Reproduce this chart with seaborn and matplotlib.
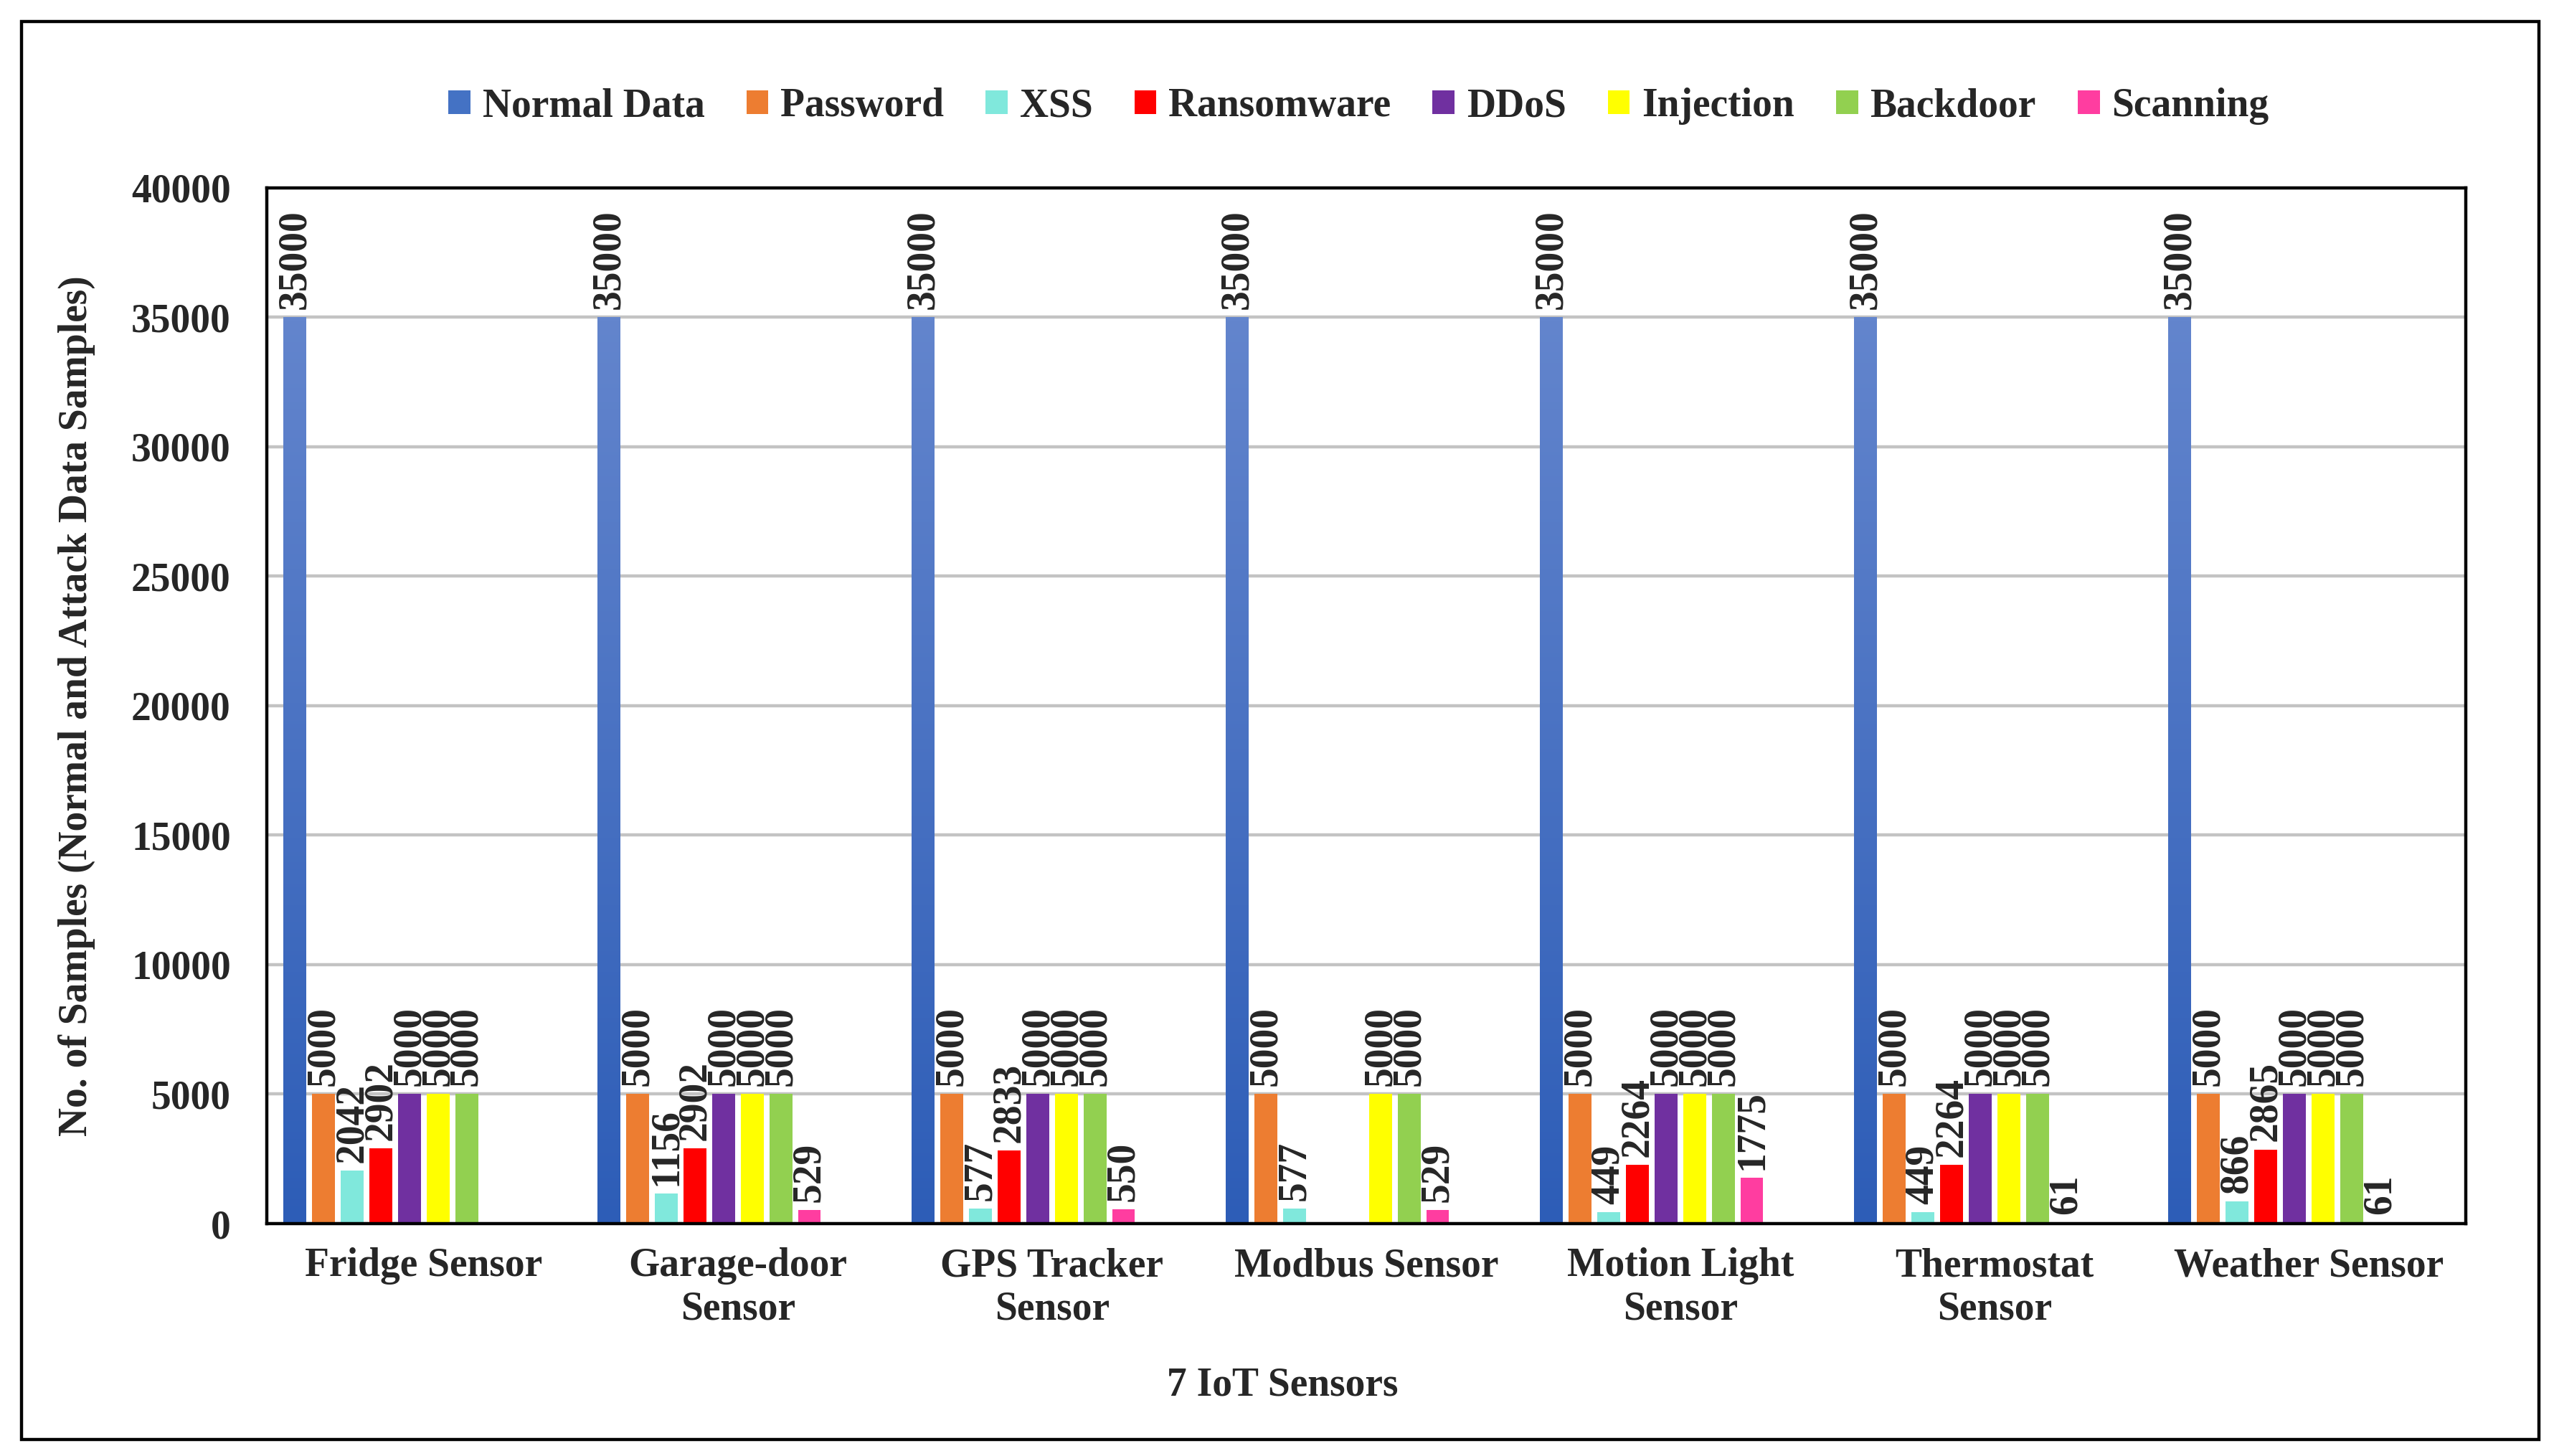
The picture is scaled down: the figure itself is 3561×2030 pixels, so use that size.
import numpy as np
import pandas as pd
import seaborn as sns
import matplotlib.pyplot as plt
from matplotlib.patches import Rectangle, Patch
from matplotlib.colors import LinearSegmentedColormap

sensors = [
    "Fridge Sensor",
    "Garage-door\nSensor",
    "GPS Tracker\nSensor",
    "Modbus Sensor",
    "Motion Light\nSensor",
    "Thermostat\nSensor",
    "Weather Sensor",
]
series = ["Normal Data", "Password", "XSS", "Ransomware", "DDoS", "Injection", "Backdoor", "Scanning"]
colors = ["#3F6EC4", "#ED7D31", "#80E8DC", "#FF0000", "#7030A0", "#FFFF00", "#92D050", "#FF3DA0"]

normal_data = [35000, 35000, 35000, 35000, 35000, 35000, 35000]
password = [5000, 5000, 5000, 5000, 5000, 5000, 5000]
xss = [2042, 1156, 577, 577, 449, 449, 866]
ransomware = [2902, 2902, 2833, np.nan, 2264, 2264, 2865]
ddos = [5000, 5000, 5000, np.nan, 5000, 5000, 5000]
injection = [5000, 5000, 5000, 5000, 5000, 5000, 5000]
backdoor = [5000, 5000, 5000, 5000, 5000, 5000, 5000]
scanning = [np.nan, 529, 550, 529, 1775, 61, 61]

values = [normal_data, password, xss, ransomware, ddos, injection, backdoor, scanning]
# the source chart keeps two empty series slots at the end of every group
pad_slots = ["_pad1", "_pad2"]

rows = []
for name, vals in zip(series, values):
    for s, v in zip(sensors, vals):
        rows.append({"sensor": s, "series": name, "value": v})
for name in pad_slots:
    for s in sensors:
        rows.append({"sensor": s, "series": name, "value": np.nan})
df = pd.DataFrame(rows)

sns.set_style("white")
plt.rcParams["font.family"] = ["Liberation Serif", "DejaVu Serif"]
plt.rcParams["font.weight"] = "bold"
plt.rcParams["axes.labelweight"] = "bold"

fig, ax = plt.subplots(figsize=(17.805, 10.15), dpi=200)
fig.subplots_adjust(left=0.1044, right=0.9654, top=0.871, bottom=0.1596)

palette = dict(zip(series, colors))
palette.update({p: "white" for p in pad_slots})
sns.barplot(
    data=df,
    x="sensor",
    y="value",
    hue="series",
    hue_order=series + pad_slots,
    order=sensors,
    palette=palette,
    saturation=1,
    width=0.911,
    gap=0.2,
    linewidth=0,
    errorbar=None,
    legend=False,
    ax=ax,
    zorder=2,
)

# gradient on the Normal Data bars
cmap = LinearSegmentedColormap.from_list("blue_grad", ["#2D5DB7", "#6385CD"])
grad = np.linspace(0, 1, 256).reshape(-1, 1)
for name, c in zip(series, ax.containers):
    if name == "Normal Data":
        for p in c.patches:
            x, w, h = p.get_x(), p.get_width(), p.get_height()
            ax.imshow(grad, extent=[x, x + w, 0, h], origin="lower", aspect="auto",
                      cmap=cmap, zorder=2.5)
            p.set_facecolor("none")
    ax.bar_label(c, fmt="%d", rotation=90, padding=4, fontsize=20, fontweight="bold")

ax.set_xlim(-0.5, len(sensors) - 0.5)
ax.set_ylim(0, 40000)
ax.set_yticks(np.arange(0, 40001, 5000))
ax.yaxis.grid(True, color="#c3c3c3", lw=1.6)
ax.set_axisbelow(True)
for sp in ax.spines.values():
    sp.set_visible(True)
    sp.set_color("black")
    sp.set_linewidth(1.6)

ax.tick_params(axis="y", length=0, pad=18, labelsize=20)
ax.tick_params(axis="x", length=0, pad=12, labelsize=20)
for t in ax.get_xticklabels() + ax.get_yticklabels():
    t.set_fontweight("bold")

ax.set_xlabel("7 IoT Sensors", fontsize=20, fontweight="bold")
ax.set_ylabel("No. of Samples (Normal and Attack Data Samples)", fontsize=20, fontweight="bold")
ax.xaxis.set_label_coords(0.462, -0.156)
ax.xaxis.label.set_va("center")
ax.yaxis.set_label_coords(-0.0863, 0.5)
ax.yaxis.label.set_va("center")

handles = [Patch(facecolor=c, edgecolor="none") for c in colors]
handles[0] = Patch(facecolor="#4472C4", edgecolor="none")
fig.legend(handles, series, loc="center", bbox_to_anchor=(0.532, 0.927), ncol=8,
           frameon=False, handlelength=0.55, handleheight=0.55,
           handletextpad=0.3, columnspacing=1.05,
           prop={"weight": "bold", "size": 20})

fig.add_artist(Rectangle((13 / 1561, 1 - 880 / 890), (1552 - 13) / 1561, (880 - 13) / 890,
                         transform=fig.transFigure, fill=False, ec="black", lw=1.6))

fig.savefig("out.png", dpi=200)
